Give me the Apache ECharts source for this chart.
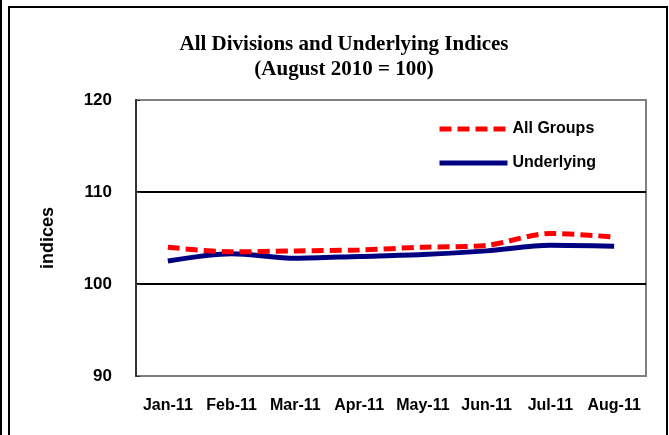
<!DOCTYPE html>
<html>
<head>
<meta charset="utf-8">
<style>html,body{margin:0;padding:0;background:#fff}#c{width:669px;height:435px}</style>
<script src="https://cdn.jsdelivr.net/npm/echarts@6/dist/echarts.min.js"></script>
</head>
<body>
<div id="c"></div>
<script>
var categories = ['Jan-11','Feb-11','Mar-11','Apr-11','May-11','Jun-11','Jul-11','Aug-11'];
var allGroups = [104.0, 103.5, 103.6, 103.7, 104.0, 104.2, 105.5, 105.1];
var underlying = [102.5, 103.3, 102.8, 103.0, 103.2, 103.6, 104.2, 104.1];
var yTicks = [90, 100, 110, 120];

var chart = echarts.init(document.getElementById('c'));
chart.setOption({
  animation: false,
  backgroundColor: '#fff',
  title: {
    text: 'All Divisions and Underlying Indices\n(August 2010 = 100)',
    left: 339, top: 27, textAlign: 'center',
    textStyle: {fontFamily: 'Liberation Serif', fontWeight: 'bold', fontSize: 21, lineHeight: 25, color: '#000'}
  },
  graphic: [
    {type: 'line', shape: {x1: 1, y1: 0, x2: 1, y2: 435}, style: {stroke: '#000', lineWidth: 2}},
    {type: 'polyline', shape: {points: [[9, 435], [9, 7], [667, 7], [667, 435]]}, style: {stroke: '#000', lineWidth: 2, fill: null}}
  ],
  legend: {
    orient: 'vertical', left: 432, top: 116, itemWidth: 68, itemHeight: 12, itemGap: 18,
    itemStyle: {opacity: 0},
    lineStyle: {width: 5},
    textStyle: {fontFamily: 'Liberation Sans', fontWeight: 'bold', fontSize: 16, color: '#000'},
    data: ['All Groups', 'Underlying']
  },
  grid: {left: 136, right: 23, top: 100, bottom: 59, show: true, borderColor: '#808080', borderWidth: 2},
  xAxis: {
    type: 'category', data: categories, boundaryGap: true,
    axisLine: {show: false}, axisTick: {show: false},
    axisLabel: {margin: 22, fontFamily: 'Liberation Sans', fontWeight: 'bold', fontSize: 16, color: '#000', interval: 0}
  },
  yAxis: {
    type: 'value', min: yTicks[0], max: yTicks[yTicks.length - 1], interval: 10,
    name: 'indices', nameLocation: 'middle', nameGap: 79, nameRotate: 90,
    nameTextStyle: {fontFamily: 'Liberation Sans', fontWeight: 'bold', fontSize: 18, color: '#000'},
    axisLine: {show: true, lineStyle: {color: '#333', width: 2}},
    axisTick: {show: true, inside: true, length: 4, lineStyle: {color: '#333'}},
    axisLabel: {margin: 24, fontFamily: 'Liberation Sans', fontWeight: 'bold', fontSize: 17, color: '#000'},
    splitLine: {show: true, lineStyle: {color: ['#808080', '#000', '#000', '#808080'], width: 2}}
  },
  series: [
    {name: 'All Groups', type: 'line', data: allGroups, smooth: 0.3, symbol: 'none',
     lineStyle: {color: '#ff0000', width: 5, type: [12, 6]}, itemStyle: {color: '#ff0000'}, z: 3},
    {name: 'Underlying', type: 'line', data: underlying, smooth: 0.3, symbol: 'none',
     lineStyle: {color: '#000080', width: 5}, itemStyle: {color: '#000080'}, z: 2}
  ]
});
</script>
</body>
</html>
